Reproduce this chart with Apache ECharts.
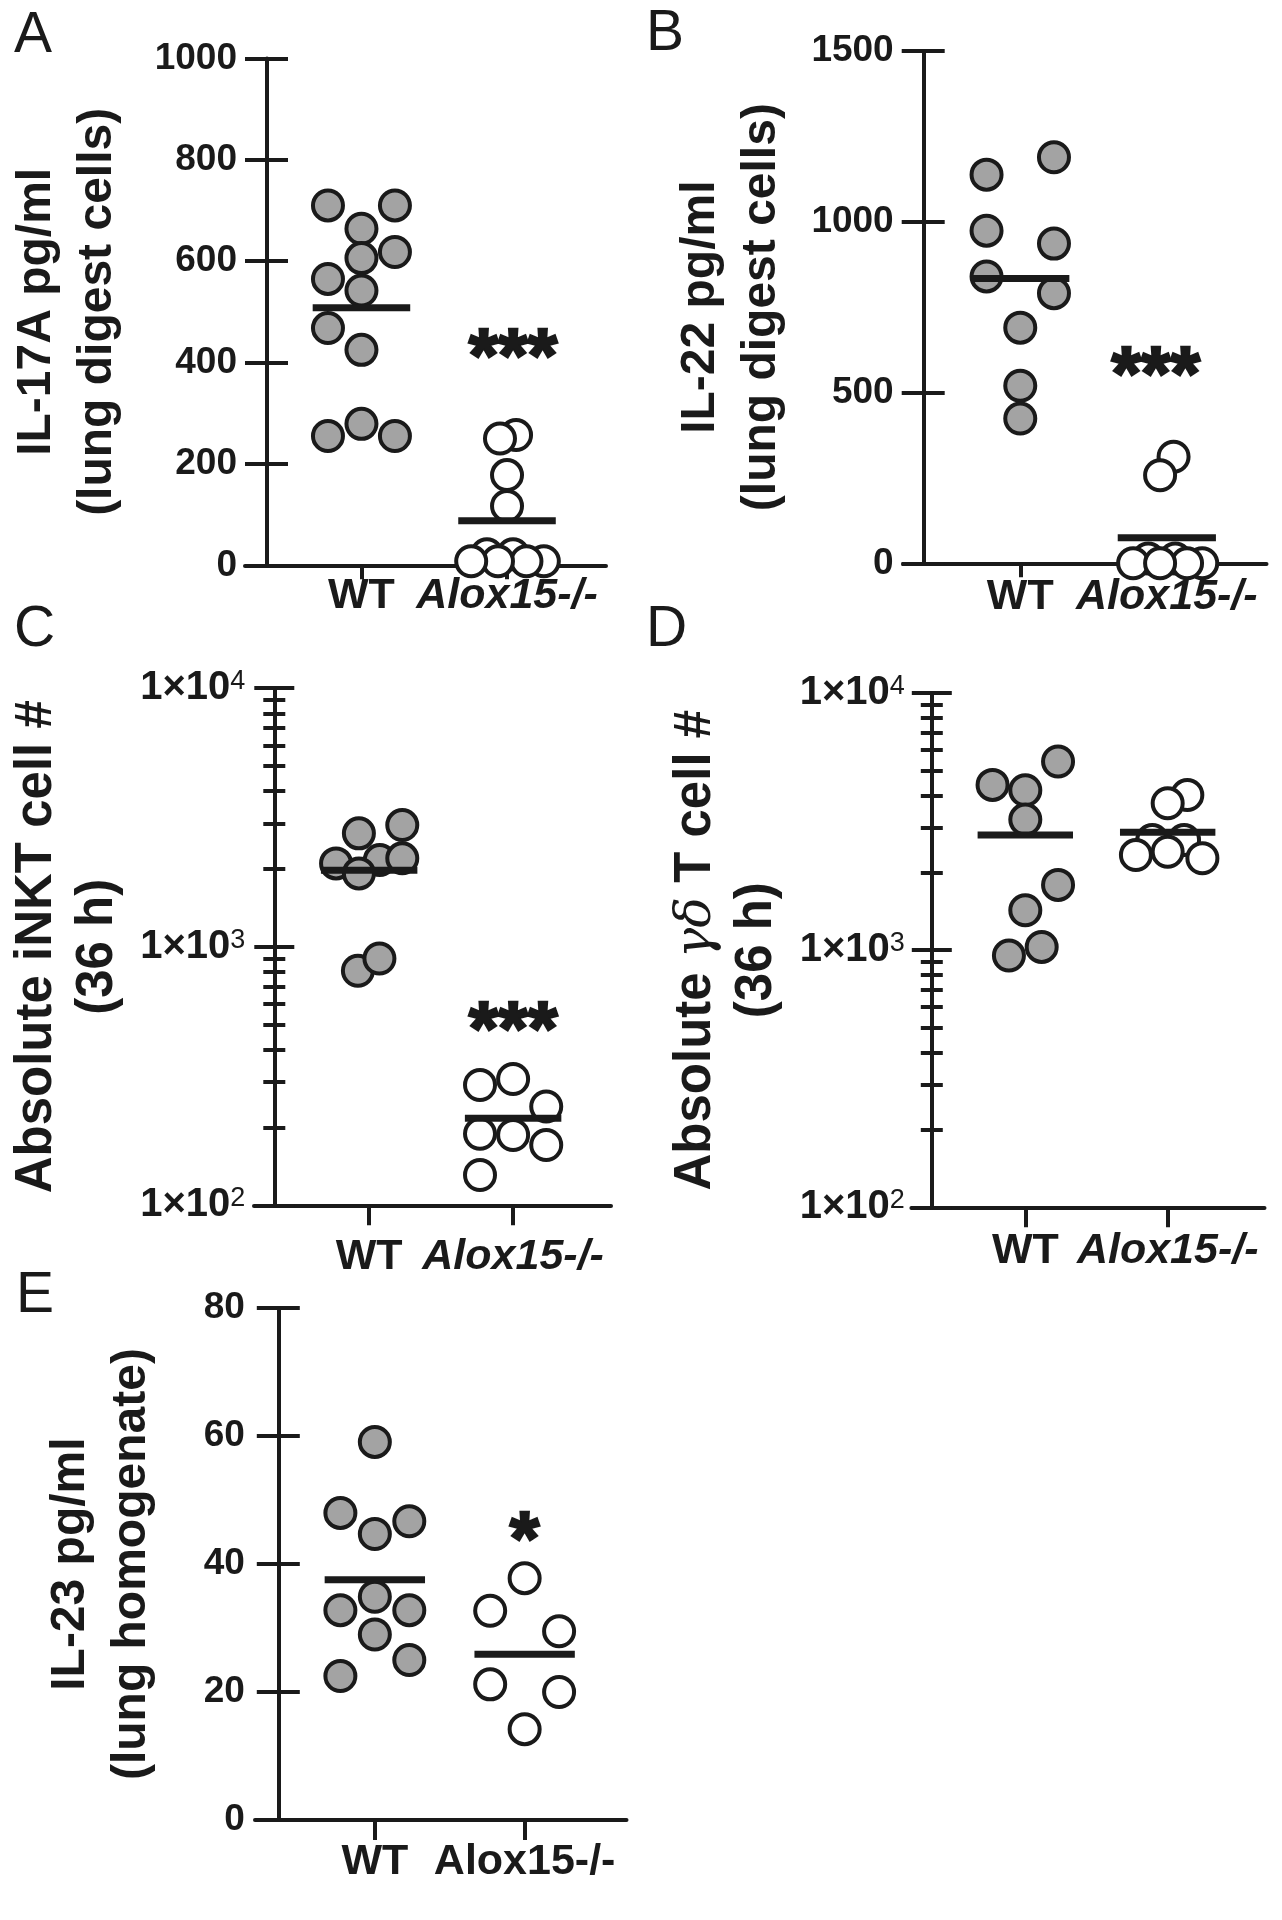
<!DOCTYPE html>
<html>
<head>
<meta charset="utf-8">
<script src="https://cdn.jsdelivr.net/npm/echarts@6/dist/echarts.min.js"></script>
<style>html,body{margin:0;padding:0;background:#fff}#chart{width:1282px;height:1920px}</style>
</head>
<body>
<div id="chart"></div>
<script>
// ---------------- DATA ----------------
const groups = ['WT', 'Alox15-/-'];

// Panel A: IL-17A pg/ml (lung digest cells)
const aTicks = [0, 200, 400, 600, 800, 1000];
const aWT = [710, 710, 664, 618, 606, 565, 542, 468, 425, 279, 255, 255];
const aWTSpread = [-1, 1, 0, 1, 0, -1, 0, -1, 0, 0, -1, 1];
const aKO = [22, 22, 8, 8, 8, 8, 117, 178, 257, 250];
const aKOSpread = [-0.6, 0.18, 1.1, 0.58, -0.27, -1.07, 0, 0, 0.27, -0.21];
const aSig = '***';
const aSigAt = 436;

// Panel B: IL-22 pg/ml (lung digest cells)
const bTicks = [0, 500, 1000, 1500];
const bWT = [1189, 1138, 974, 936, 840, 791, 690, 520, 424];
const bWTSpread = [1, -1, -1, 1, -1, 1, 0, 0, 0];
const bKO = [14, 14, 0, 0, 0, 0, 312, 258];
const bKOSpread = [-0.55, 0.25, 1.05, 0.6, -1, -0.2, 0.2, -0.2];
const bSig = '***';
const bSigAt = 590;

// Panel C: Absolute iNKT cell # (36 h), log scale
const cTicks = [100, 1000, 10000];
const cWT = [2164, 2101, 2955, 2745, 2198, 1922, 808, 901];
const cWTSpread = [0.32, -1, 1, -0.31, 1, -0.31, -0.34, 0.31];
const cKO = [308, 292, 241, 189, 187, 171, 131];
const cKOSpread = [0, -1, 1, -1, 0, 1, -1];
const cSig = '***';
const cSigAt = 535;

// Panel D: Absolute γδ T cell # (36 h), log scale
const dTicks = [100, 1000, 10000];
const dWT = [5420, 4395, 4190, 3221, 1795, 1431, 1030, 953];
const dWTSpread = [1, -1, 0, 0, 1, 0, 0.5, -0.5];
const dKO = [4016, 3727, 2683, 2683, 2346, 2415, 2278];
const dKOSpread = [0.6, 0, -0.47, 0.5, -0.97, 0, 1.06];

// Panel E: IL-23 pg/ml (lung homogenate)
const eTicks = [0, 20, 40, 60, 80];
const eWT = [59.1, 48.0, 46.7, 44.7, 34.9, 32.8, 32.8, 29.0, 25.0, 22.5];
const eWTSpread = [0, -1, 1, 0, 0, -1, 1, 0, 1, -1];
const eKO = [37.8, 32.7, 29.5, 21.2, 20.0, 14.2];
const eKOSpread = [0, -1, 1, -1, 1, 0];
const eSig = '*';
const eSigAt = 45.8;

// ---------------- STYLE / LAYOUT ----------------
const INK = '#1a1a1a';
const GRAY = '#a3a3a3';
const FONT = '"Liberation Sans", Arial, Helvetica, sans-serif';
const STEP = 0.23;      // horizontal spread unit (x-axis units)
const HALF = 0.335;     // half width of mean bar (x-axis units)
const XMIN = 0.2, XMAX = 2.68;

const option = {
  animation: false,
  backgroundColor: '#ffffff',
  grid: [], xAxis: [], yAxis: [], series: [], graphic: []
};

function mean(arr) { return arr.reduce((s, v) => s + v, 0) / arr.length; }

function addPanel(p) {
  const gi = option.grid.length;
  option.grid.push({
    left: p.box[0], top: p.box[1], width: p.box[2], height: p.box[3],
    containLabel: false, outerBoundsMode: 'none'
  });
  const italicKO = p.italicKO;
  option.xAxis.push({
    gridIndex: gi, type: 'value', min: XMIN, max: XMAX,
    axisLine: { show: true, onZero: false, lineStyle: { color: INK, width: 4 } },
    axisTick: { show: true, customValues: [1, 2], length: p.xTick, lineStyle: { color: INK, width: 4 } },
    axisLabel: {
      show: true, customValues: [1, 2], margin: p.xLabelMargin,
      formatter: v => Math.round(v) === 1 ? '{n|' + groups[0] + '}' : (italicKO ? '{i|' + groups[1] + '}' : '{n|' + groups[1] + '}'),
      rich: {
        n: { fontSize: 43, fontWeight: 'bold', color: INK, fontFamily: FONT },
        i: { fontSize: 43, fontWeight: 'bold', fontStyle: 'italic', color: INK, fontFamily: FONT }
      }
    },
    splitLine: { show: false }
  });

  const nf = p.nameFont, nlh = 61;
  const nameStyle = {
    fontSize: nf, fontWeight: 'bold', color: INK, fontFamily: FONT, lineHeight: nlh,
    rich: {
      g: { fontSize: nf, fontStyle: 'italic', fontWeight: 'normal', fontFamily: '"DejaVu Serif", "Liberation Serif", serif', color: INK, lineHeight: nlh }
    }
  };

  const yMain = option.yAxis.length;
  if (!p.log) {
    const ticks = p.ticks;
    const base = {
      gridIndex: gi, type: 'value', min: ticks[0], max: ticks[ticks.length - 1],
      interval: ticks[1] - ticks[0], position: 'left', offset: -p.yShift,
      splitLine: { show: false }
    };
    option.yAxis.push(Object.assign({}, base, {
      axisLine: { show: true, onZero: false, lineStyle: { color: INK, width: 4 } },
      axisTick: { show: true, length: 22, lineStyle: { color: INK, width: 4 } },
      axisLabel: {
        show: true, margin: p.yLabelMargin, fontSize: 37, fontWeight: 'bold', color: INK, fontFamily: FONT,
        formatter: v => String(v)
      },
      name: p.yName, nameLocation: 'middle', nameRotate: 90, nameGap: p.nameGap, nameTextStyle: nameStyle
    }));
    option.yAxis.push(Object.assign({}, base, {
      axisLine: { show: false, onZero: false },
      axisTick: { show: true, inside: true, length: 21, lineStyle: { color: INK, width: 4 } },
      axisLabel: { show: false }
    }));
  } else {
    const ticks = p.ticks;
    const lo = Math.log10(ticks[0]), hi = Math.log10(ticks[ticks.length - 1]);
    const minors = [];
    for (let e = lo; e < hi; e++) for (let m = 2; m <= 9; m++) minors.push(Math.log10(m) + e);
    const base = {
      gridIndex: gi, type: 'log', logBase: 10, min: ticks[0], max: ticks[ticks.length - 1],
      position: 'left', offset: -p.yShift, splitLine: { show: false }
    };
    option.yAxis.push(Object.assign({}, base, {
      axisLine: { show: true, onZero: false, lineStyle: { color: INK, width: 4 } },
      axisTick: { show: true, length: 20, lineStyle: { color: INK, width: 4 } },
      axisLabel: {
        show: true, margin: p.yLabelMargin,
        formatter: v => '{m|1×10}{s|' + Math.round(Math.log10(v)) + '}',
        rich: {
          m: { fontSize: 40, fontWeight: 'bold', color: INK, fontFamily: FONT },
          s: { fontSize: 27, fontWeight: 'normal', color: INK, fontFamily: FONT, verticalAlign: 'top' }
        }
      },
      name: p.yName, nameLocation: 'middle', nameRotate: 90, nameGap: p.nameGap, nameTextStyle: nameStyle
    }));
    option.yAxis.push(Object.assign({}, base, {
      axisLine: { show: false, onZero: false },
      axisTick: { show: true, inside: true, length: 20, lineStyle: { color: INK, width: 4 } },
      axisLabel: { show: false }
    }));
    const mbase = {
      gridIndex: gi, type: 'value', min: lo, max: hi, position: 'left', offset: -p.yShift,
      splitLine: { show: false }, axisLine: { show: false, onZero: false }, axisLabel: { show: false }
    };
    option.yAxis.push(Object.assign({}, mbase, {
      axisTick: { show: true, customValues: minors, length: 11, lineStyle: { color: INK, width: 4 } }
    }));
    option.yAxis.push(Object.assign({}, mbase, {
      axisTick: { show: true, inside: true, customValues: minors, length: 11, lineStyle: { color: INK, width: 4 } }
    }));
  }

  const groupsData = [
    { vals: p.wt, spread: p.wtSpread, fill: GRAY, x: 1 },
    { vals: p.ko, spread: p.koSpread, fill: '#ffffff', x: 2 }
  ];
  groupsData.forEach(g => {
    option.series.push({
      type: 'scatter', xAxisIndex: gi, yAxisIndex: yMain, silent: true,
      symbol: 'circle', symbolSize: 30,
      itemStyle: { color: g.fill, borderColor: INK, borderWidth: 4, opacity: 1 },
      data: g.vals.map((v, k) => [g.x + g.spread[k] * STEP, v]),
      z: 2
    });
    const m = mean(g.vals);
    option.series.push({
      type: 'line', xAxisIndex: gi, yAxisIndex: yMain, silent: true,
      symbol: 'none', showSymbol: false,
      lineStyle: { color: INK, width: 7, cap: 'butt' },
      data: [[g.x - HALF, m], [g.x + HALF, m]],
      z: 3
    });
  });

  if (p.sig) {
    const sigText = p.sig, off = p.sigOffset;
    option.series.push({
      type: 'custom', coordinateSystem: 'cartesian2d', xAxisIndex: gi, yAxisIndex: yMain, silent: true,
      data: [[2, p.sigAt]],
      renderItem: (params, api) => {
        const pt = api.coord([api.value(0), api.value(1)]);
        return {
          type: 'text', x: pt[0] + off[0], y: pt[1] + off[1],
          style: {
            text: sigText, fill: INK, stroke: INK, lineWidth: 2.5,
            fontSize: 76, fontWeight: 'bold', fontFamily: FONT,
            align: 'center', verticalAlign: 'middle', textAlign: 'center', textVerticalAlign: 'middle'
          }
        };
      },
      z: 4
    });
  }

  option.graphic.push({
    type: 'text', left: p.letterPos[0], top: p.letterPos[1],
    style: { text: p.letter, fontSize: 57, fontFamily: FONT, fill: INK }
  });
}

addPanel({
  letter: 'A', letterPos: [14, 8], box: [245, 58.4, 361, 506.9], yShift: 22,
  ticks: aTicks, wt: aWT, wtSpread: aWTSpread, ko: aKO, koSpread: aKOSpread,
  sig: aSig, sigAt: aSigAt, sigOffset: [6, 16], italicKO: true,
  xTick: 14, xLabelMargin: 9, yLabelMargin: 30, nameGap: 139, nameFont: 48,
  yName: 'IL-17A pg/ml\n(lung digest cells)'
});
addPanel({
  letter: 'B', letterPos: [646, 6], box: [903, 51, 363.5, 512.3], yShift: 20.7,
  ticks: bTicks, wt: bWT, wtSpread: bWTSpread, ko: bKO, koSpread: bKOSpread,
  sig: bSig, sigAt: bSigAt, sigOffset: [-11, 16], italicKO: true,
  xTick: 14, xLabelMargin: 12, yLabelMargin: 30, nameGap: 131, nameFont: 48,
  yName: 'IL-22 pg/ml\n(lung digest cells)'
});
addPanel({
  letter: 'C', letterPos: [14, 602], box: [254, 688.2, 357, 517.1], yShift: 20.3, log: true,
  ticks: cTicks, wt: cWT, wtSpread: cWTSpread, ko: cKO, koSpread: cKOSpread,
  sig: cSig, sigAt: cSigAt, sigOffset: [0, 16], italicKO: true,
  xTick: 20, xLabelMargin: 30, yLabelMargin: 29, nameGap: 146, nameFont: 51,
  yName: 'Absolute iNKT cell #\n(36 h)'
});
addPanel({
  letter: 'D', letterPos: [646, 602], box: [911.4, 693.1, 353.1, 514.2], yShift: 20.4, log: true,
  ticks: dTicks, wt: dWT, wtSpread: dWTSpread, ko: dKO, koSpread: dKOSpread,
  sig: null, italicKO: true,
  xTick: 20, xLabelMargin: 22, yLabelMargin: 27, nameGap: 144, nameFont: 51,
  yName: 'Absolute {g|γδ} T cell #\n(36 h)'
});
addPanel({
  letter: 'E', letterPos: [16, 1268], box: [255, 1308.2, 371.5, 511.8], yShift: 23.8,
  ticks: eTicks, wt: eWT, wtSpread: eWTSpread, ko: eKO, koSpread: eKOSpread,
  sig: eSig, sigAt: eSigAt, sigOffset: [0, 16], italicKO: false,
  xTick: 20, xLabelMargin: 21, yLabelMargin: 34, nameGap: 117, nameFont: 48,
  yName: 'IL-23 pg/ml\n(lung homogenate)'
});

const chart = echarts.init(document.getElementById('chart'), null, { renderer: 'canvas', width: 1282, height: 1920 });
chart.setOption(option);
</script>
</body>
</html>
